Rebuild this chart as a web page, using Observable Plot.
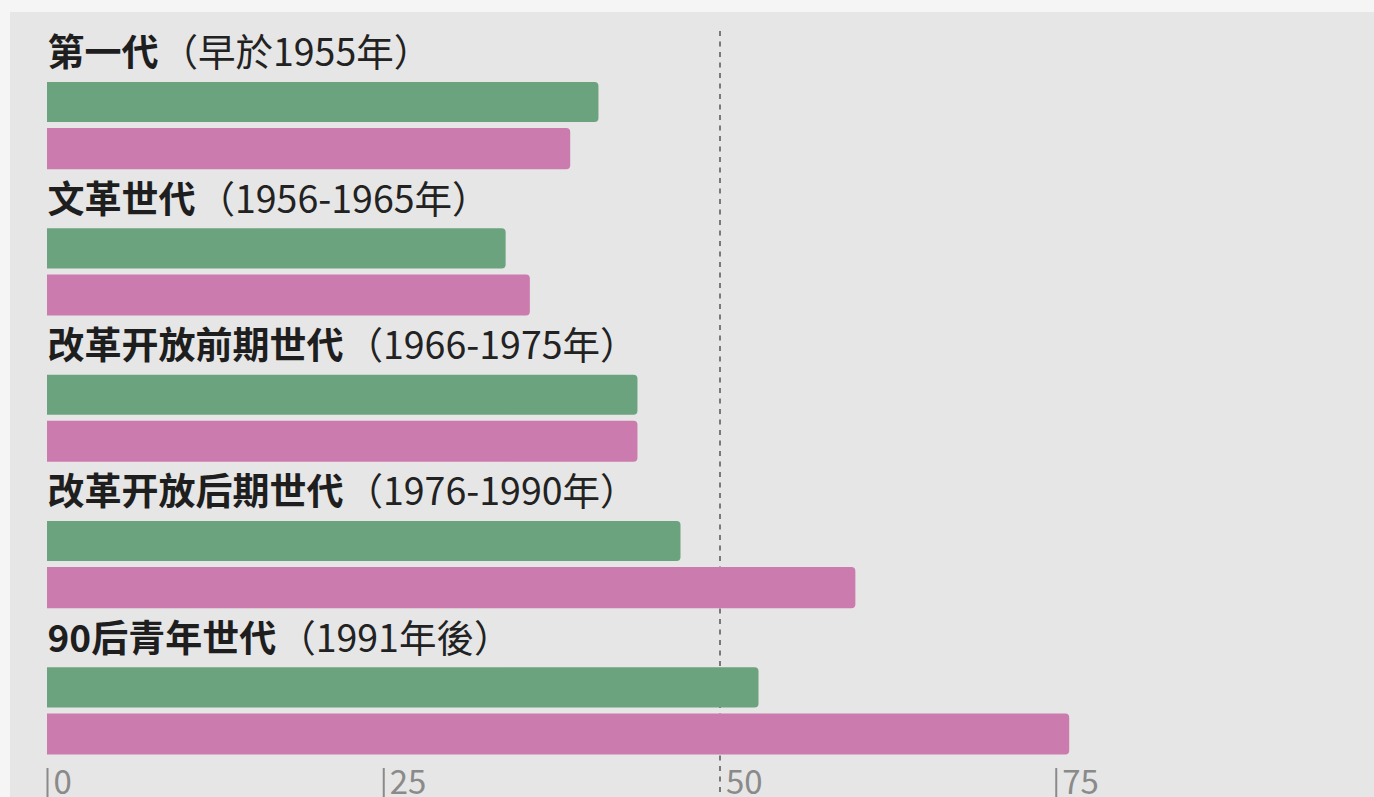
<!DOCTYPE html>
<html><head><meta charset="utf-8">
<script src="https://cdn.jsdelivr.net/npm/d3@7"></script>
<script src="https://cdn.jsdelivr.net/npm/@observablehq/plot@0.6"></script>
<style>
html,body{margin:0;padding:0;background:#f5f5f5;overflow:hidden;width:1374px;height:797px;}
#panel{position:absolute;left:10px;top:12px;width:1364px;height:800px;background:#e6e6e6;overflow:hidden;}
</style></head><body><div id="panel"></div>
<script>
// ---- data ----
const groups = ["第一代", "文革世代", "改革开放前期世代", "改革开放后期世代", "90后青年世代"];
const years = ["（早於1955年）", "（1956-1965年）", "（1966-1975年）", "（1976-1990年）", "（1991年後）"];
const seriesNames = ["A", "B"];
const seriesA = [41.0, 34.1, 43.9, 47.1, 52.9];   // green bars
const seriesB = [38.9, 35.9, 43.9, 60.1, 76.0];   // pink bars
const tickValues = [0, 25, 50, 75];
const refValue = 50;
const colors = ["#6ca37f", "#cc7bae"];

// ---- tables built from the arrays ----
const rows = [];
groups.forEach(g => rows.push(g + "|label", g + "|A", g + "|B"));
const barsA = groups.map((g, i) => ({key: g + "|A", series: "A", value: seriesA[i]}));
const barsB = groups.map((g, i) => ({key: g + "|B", series: "B", value: seriesB[i]}));
const labels = groups.map((g, i) => ({key: g + "|label", name: g, years: years[i]}));

const FONT = "'Noto Sans CJK TC','Noto Sans CJK SC','Noto Sans',sans-serif";
const FS = 37;
const FS2 = 37.5;
const ctx = document.createElement("canvas").getContext("2d");
ctx.font = `bold ${FS}px ${FONT}`;
const GAP = 2;

const yearMarks = labels.map(d => Plot.text([d], {
  x: () => 0, y: "key", text: "years", textAnchor: "start", lineAnchor: "middle",
  dx: ctx.measureText(d.name).width + GAP, dy: 2,
  fontSize: FS2, fontWeight: 400, fill: "#222"
}));

const chart = Plot.plot({
  width: 1364,
  height: 800,
  marginTop: 19,
  marginBottom: 44,
  marginLeft: 0,
  marginRight: 0,
  style: {background: "transparent", fontFamily: FONT, overflow: "visible"},
  x: {domain: [0, 100], range: [37, 1382]},
  y: {domain: rows, range: [15.5, 747.2], padding: 0, round: false, axis: null},
  color: {domain: seriesNames, range: colors},
  marks: [
    Plot.ruleX([refValue], {stroke: "#555", strokeWidth: 1.5, strokeDasharray: "5,5.5", insetBottom: -60}),
    Plot.barX(barsA, {x: "value", y: "key", fill: "series", insetTop: 5.7, insetBottom: 3, rx2: 4}),
    Plot.barX(barsB, {x: "value", y: "key", fill: "series", insetTop: 3, insetBottom: 4.7, rx2: 4}),
    Plot.text(labels, {x: () => 0, y: "key", text: "name", textAnchor: "start", lineAnchor: "middle", dy: 2,
      fontSize: FS, fontWeight: 700, fill: "#1e1e1e"}),
    ...yearMarks,
    // tick marks (no labels)
    Plot.axisX(tickValues.filter(t => t !== refValue), {anchor: "bottom", tickSize: 40,
      tickFormat: () => "", color: "#8a8a8a", strokeWidth: 2, label: null}),
    // tick labels beside the ticks
    Plot.axisX(tickValues, {anchor: "bottom", tickSize: 0, tickPadding: 2,
      textAnchor: "start", lineAnchor: "top", dx: 6, fontSize: 33, color: "#8a8a8a",
      tickFormat: d => String(d), label: null})
  ]
});
document.getElementById("panel").appendChild(chart);
</script>
</body></html>
